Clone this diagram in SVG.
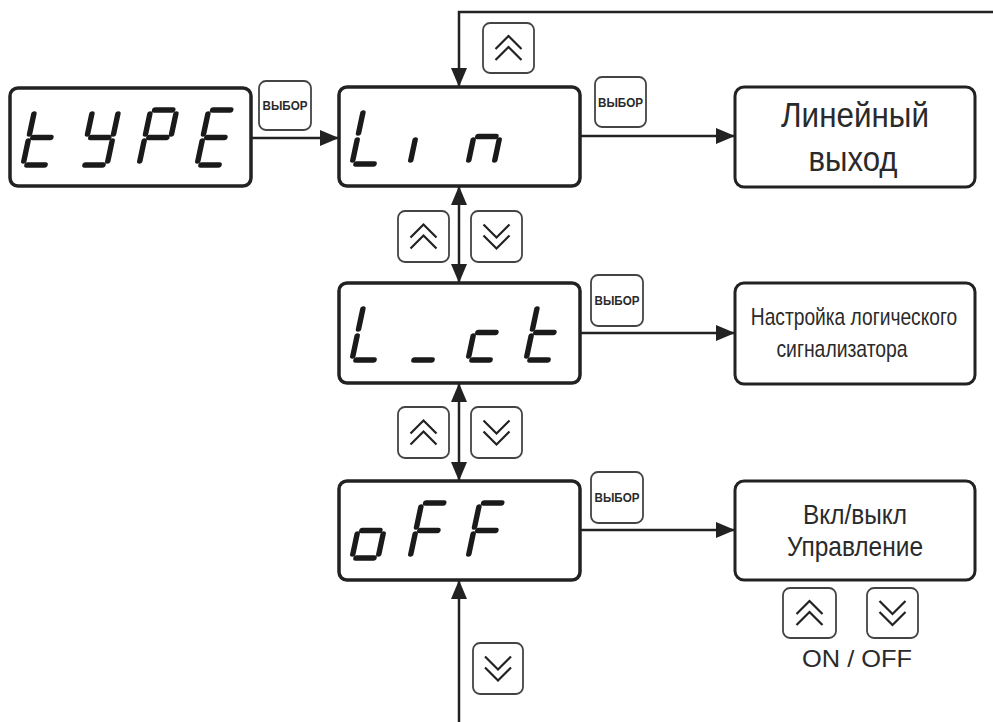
<svg xmlns="http://www.w3.org/2000/svg" xmlns:xlink="http://www.w3.org/1999/xlink" width="993" height="722" viewBox="0 0 993 722">
<style>
.disp{fill:#fff;stroke:#222;stroke-width:3.5}
.tbox{fill:#fff;stroke:#222;stroke-width:3}
.btn{fill:#fff;stroke:#444;stroke-width:1.8}
.chev{fill:none;stroke:#222;stroke-width:2.2;stroke-linejoin:miter}
.seg{fill:none;stroke:#1a1a1a;stroke-width:5.5;stroke-linecap:round}
.ln{fill:none;stroke:#222;stroke-width:2.5}
.lbl{font-family:"Liberation Sans",Arial,sans-serif;fill:#2a2a2a;text-anchor:middle}
.vb{font-family:"Liberation Sans",Arial,sans-serif;font-weight:bold;font-size:12.5px;fill:#2a2a2a;text-anchor:middle}
</style>
<defs>
<marker id="ah" markerUnits="userSpaceOnUse" markerWidth="19" markerHeight="16" refX="19" refY="8" orient="auto-start-reverse" viewBox="0 0 19 16">
<path d="M0,0 L19,8 L0,16 z" fill="#222"/>
</marker>
<path id="sa" d="M4,-55 H22"/>
<path id="sb" d="M26,-51 V-31"/>
<path id="sc" d="M26,-24 V-4"/>
<path id="sd" d="M4,0 H22"/>
<path id="se" d="M0,-24 V-4"/>
<path id="sf" d="M0,-51 V-31"/>
<path id="sg" d="M4,-27.5 H22"/>
<path id="up" d="M-13,1 L0,-12 L13,1 M-13,12 L0,-1 L13,12"/>
<path id="dn" d="M-13,-1 L0,12 L13,-1 M-13,-12 L0,1 L13,-12"/>
</defs>

<g id="connectors">
<path class="ln" d="M993,12 H459 V87" marker-end="url(#ah)"/>
<path class="ln" d="M251,138 H339" marker-end="url(#ah)"/>
<path class="ln" d="M580,136 H735" marker-end="url(#ah)"/>
<path class="ln" d="M580,333 H735" marker-end="url(#ah)"/>
<path class="ln" d="M580,530 H735" marker-end="url(#ah)"/>
<path class="ln" d="M459,186 V283" marker-start="url(#ah)" marker-end="url(#ah)"/>
<path class="ln" d="M459,383 V481" marker-start="url(#ah)" marker-end="url(#ah)"/>
<path class="ln" d="M459,722 V580" marker-end="url(#ah)"/>
</g>

<g id="node-type">
<rect class="disp" x="10" y="88" width="241" height="98" rx="8"/>
<g class="seg" transform="translate(23,165) skewX(-12)"><use href="#sd"/><use href="#se"/><use href="#sf"/><use href="#sg"/></g>
<g class="seg" transform="translate(81,165) skewX(-12)"><use href="#sb"/><use href="#sc"/><use href="#sd"/><use href="#sf"/><use href="#sg"/></g>
<g class="seg" transform="translate(139,165) skewX(-12)"><use href="#sa"/><use href="#sb"/><use href="#se"/><use href="#sf"/><use href="#sg"/></g>
<g class="seg" transform="translate(197,165) skewX(-12)"><use href="#sa"/><use href="#sd"/><use href="#se"/><use href="#sf"/><use href="#sg"/></g>
</g>

<g id="node-lin">
<rect class="disp" x="339" y="87" width="241" height="99" rx="8"/>
<g class="seg" transform="translate(352,164) skewX(-12)"><use href="#sd"/><use href="#se"/><use href="#sf"/></g>
<g class="seg" transform="translate(410,164) skewX(-12)"><use href="#se"/></g>
<g class="seg" transform="translate(468,164) skewX(-12)"><use href="#sc"/><use href="#se"/><use href="#sg"/></g>
</g>

<g id="node-lct">
<rect class="disp" x="339" y="283" width="241" height="100" rx="8"/>
<g class="seg" transform="translate(352,360) skewX(-12)"><use href="#sd"/><use href="#se"/><use href="#sf"/></g>
<g class="seg" transform="translate(410,360) skewX(-12)"><use href="#sd"/></g>
<g class="seg" transform="translate(468,360) skewX(-12)"><use href="#sd"/><use href="#se"/><use href="#sg"/></g>
<g class="seg" transform="translate(526,360) skewX(-12)"><use href="#sd"/><use href="#se"/><use href="#sf"/><use href="#sg"/></g>
</g>

<g id="node-off">
<rect class="disp" x="339" y="481" width="241" height="99" rx="8"/>
<g class="seg" transform="translate(352,558) skewX(-12)"><use href="#sc"/><use href="#sd"/><use href="#se"/><use href="#sg"/></g>
<g class="seg" transform="translate(410,558) skewX(-12)"><use href="#sa"/><use href="#se"/><use href="#sf"/><use href="#sg"/></g>
<g class="seg" transform="translate(468,558) skewX(-12)"><use href="#sa"/><use href="#se"/><use href="#sf"/><use href="#sg"/></g>
</g>

<g id="node-linear-out">
<rect class="tbox" x="735" y="87" width="240" height="100" rx="9"/>
<text class="lbl" x="855" y="127" font-size="35" textLength="148" lengthAdjust="spacingAndGlyphs">Линейный</text>
<text class="lbl" x="853" y="171" font-size="35" textLength="89" lengthAdjust="spacingAndGlyphs">выход</text>
</g>

<g id="node-logic">
<rect class="tbox" x="735" y="283" width="240" height="101" rx="9"/>
<text class="lbl" transform="translate(854,325) scale(0.8,1)" x="0" y="0" font-size="24" textLength="258" lengthAdjust="spacingAndGlyphs">Настройка логического</text>
<text class="lbl" transform="translate(842,357) scale(0.8,1)" x="0" y="0" font-size="24" textLength="164" lengthAdjust="spacingAndGlyphs">сигнализатора</text>
</g>

<g id="node-onoff">
<rect class="tbox" x="735" y="481" width="240" height="99" rx="9"/>
<text class="lbl" x="855" y="524" font-size="28" textLength="104" lengthAdjust="spacingAndGlyphs">Вкл/выкл</text>
<text class="lbl" x="855" y="556" font-size="28" textLength="136" lengthAdjust="spacingAndGlyphs">Управление</text>
</g>

<g id="btn-select-1"><rect class="btn" x="259" y="81" width="52" height="49" rx="7"/><text class="vb" x="285" y="110" textLength="45" lengthAdjust="spacingAndGlyphs">ВЫБОР</text></g>
<g id="btn-select-2"><rect class="btn" x="595" y="77" width="51" height="50" rx="7"/><text class="vb" x="620.5" y="107" textLength="45" lengthAdjust="spacingAndGlyphs">ВЫБОР</text></g>
<g id="btn-select-3"><rect class="btn" x="591" y="275" width="52" height="51" rx="7"/><text class="vb" x="617" y="305" textLength="45" lengthAdjust="spacingAndGlyphs">ВЫБОР</text></g>
<g id="btn-select-4"><rect class="btn" x="591" y="472" width="52" height="51" rx="7"/><text class="vb" x="617" y="502" textLength="45" lengthAdjust="spacingAndGlyphs">ВЫБОР</text></g>

<g id="btn-up-top"><rect class="btn" x="483" y="23" width="51" height="50" rx="7"/><use class="chev" href="#up" transform="translate(508.5,48)"/></g>
<g id="btn-up-1"><rect class="btn" x="398" y="211" width="51" height="51" rx="7"/><use class="chev" href="#up" transform="translate(423.5,236.5)"/></g>
<g id="btn-down-1"><rect class="btn" x="471" y="211" width="51" height="51" rx="7"/><use class="chev" href="#dn" transform="translate(496.5,236.5)"/></g>
<g id="btn-up-2"><rect class="btn" x="398" y="407" width="51" height="51" rx="7"/><use class="chev" href="#up" transform="translate(423.5,432.5)"/></g>
<g id="btn-down-2"><rect class="btn" x="471" y="407" width="51" height="51" rx="7"/><use class="chev" href="#dn" transform="translate(496.5,432.5)"/></g>
<g id="btn-down-bottom"><rect class="btn" x="473" y="643" width="50" height="51" rx="7"/><use class="chev" href="#dn" transform="translate(498,668.5)"/></g>
<g id="btn-on"><rect class="btn" x="783" y="588" width="53" height="50" rx="7"/><use class="chev" href="#up" transform="translate(809.5,613)"/></g>
<g id="btn-off"><rect class="btn" x="867" y="588" width="51" height="50" rx="7"/><use class="chev" href="#dn" transform="translate(892.5,613)"/></g>
<g id="label-onoff"><text class="lbl" x="857" y="667" font-size="24" textLength="110" lengthAdjust="spacingAndGlyphs">ON / OFF</text></g>
</svg>
